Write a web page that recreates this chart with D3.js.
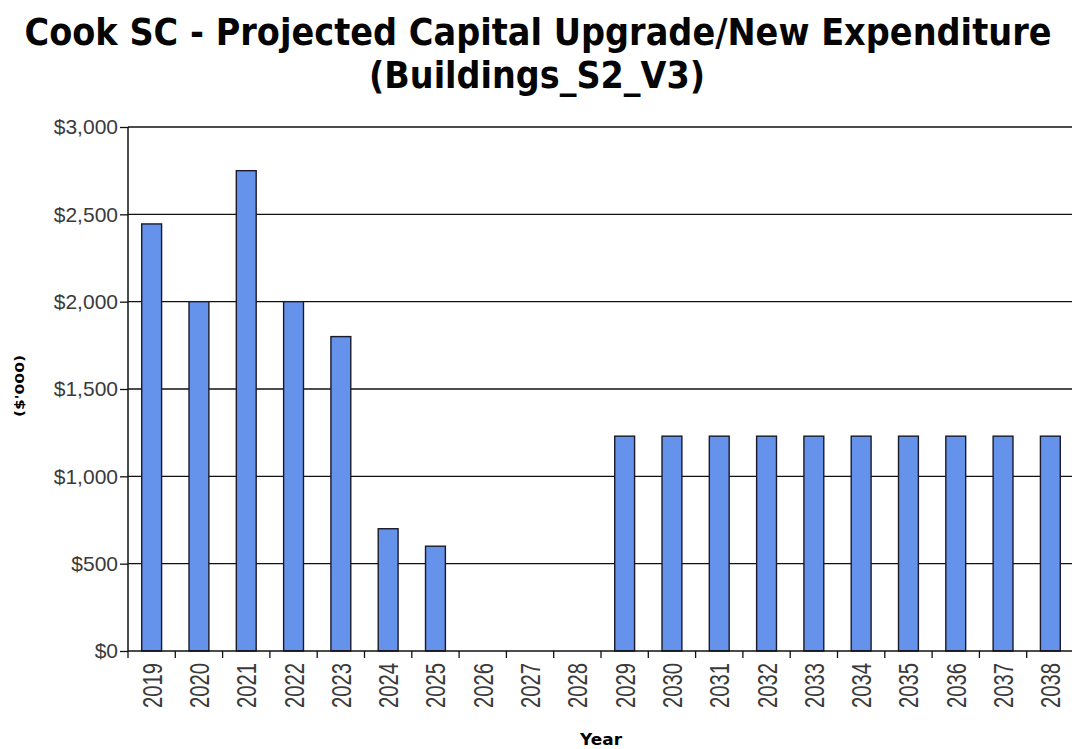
<!DOCTYPE html>
<html><head><meta charset="utf-8">
<script src="https://cdn.jsdelivr.net/npm/d3@7"></script>
<style>body{margin:0;background:#fff}svg{display:block}</style>
</head><body><svg id="c" width="1072" height="749"></svg>
<script>
const years = ["2019","2020","2021","2022","2023","2024","2025","2026","2027","2028","2029","2030","2031","2032","2033","2034","2035","2036","2037","2038"];
const values = [2445,2000,2750,2000,1800,700,600,0,0,0,1230,1230,1230,1230,1230,1230,1230,1230,1230,1230];
const yTicks = [0,500,1000,1500,2000,2500,3000];
const titleLines = ["Cook SC - Projected Capital Upgrade/New Expenditure","(Buildings_S2_V3)"];
const yTitle = "($'000)";
const xTitle = "Year";

const svg = d3.select("#c");
const m = {l:128, t:127, r:1074, b:651};
const x = d3.scaleBand().domain(years).range([m.l, m.r]).paddingInner(0.58).paddingOuter(0.29);
const y = d3.scaleLinear().domain([0,3000]).range([m.b, m.t]);

// title (drawn at a smaller size and stretched vertically to mimic a condensed bold face)
const tf = "'DejaVu Sans',Verdana,sans-serif";
const sy = 1.3;
svg.append("text").attr("transform",`translate(538,45) scale(1,${sy})`).attr("text-anchor","middle")
  .attr("font-family",tf).attr("font-weight","bold").attr("fill","#050505")
  .attr("font-size",28.5).attr("textLength",1027).attr("lengthAdjust","spacingAndGlyphs").text(titleLines[0]);
svg.append("text").attr("transform",`translate(537,88) scale(1,${sy})`).attr("text-anchor","middle")
  .attr("font-family",tf).attr("font-weight","bold").attr("fill","#050505")
  .attr("font-size",28.5).attr("textLength",336).attr("lengthAdjust","spacingAndGlyphs").text(titleLines[1]);

// grid lines
svg.append("g").selectAll("line").data(yTicks.filter(d=>d>0)).join("line")
  .attr("x1",m.l).attr("x2",1072).attr("y1",d=>y(d)).attr("y2",d=>y(d))
  .attr("stroke","#111").attr("stroke-width",1.3);

// bars
svg.append("g").selectAll("rect").data(years.map((yr,i)=>({yr,v:values[i]})).filter(d=>d.v>0)).join("rect")
  .attr("x",d=>x(d.yr)).attr("width",x.bandwidth())
  .attr("y",d=>y(d.v)).attr("height",d=>y(0)-y(d.v))
  .attr("fill","#6592EA").attr("stroke","#1a1a2a").attr("stroke-width",1.4);

// y axis
const ya = d3.axisLeft(y).tickValues(yTicks).tickSize(8).tickPadding(2).tickFormat(d=>"$"+d3.format(",")(d));
const gy = svg.append("g").attr("transform",`translate(${m.l},0)`).call(ya);
gy.select(".domain").remove();
gy.selectAll(".tick line").attr("stroke","#111").attr("stroke-width",1.3);
gy.selectAll("text").attr("font-family","'Liberation Sans',Arial,sans-serif").attr("font-size",21).attr("fill","#3a3a3a");
svg.append("line").attr("x1",m.l).attr("x2",m.l).attr("y1",m.t).attr("y2",m.b).attr("stroke","#111").attr("stroke-width",1.5);

// x axis
svg.append("line").attr("x1",m.l).attr("x2",1072).attr("y1",m.b).attr("y2",m.b).attr("stroke","#111").attr("stroke-width",1.5);
const step = x.step();
const bounds = years.map((d,i)=>m.l + i*step);
svg.append("g").selectAll("line").data(bounds).join("line")
  .attr("x1",d=>d).attr("x2",d=>d).attr("y1",m.b).attr("y2",m.b+7).attr("stroke","#111").attr("stroke-width",1.3);
svg.append("g").selectAll("text").data(years).join("text")
  .attr("transform",d=>`translate(${x(d)+x.bandwidth()/2+10},${m.b+12}) rotate(-90)`)
  .attr("text-anchor","end")
  .attr("font-family","'Liberation Sans',Arial,sans-serif").attr("font-size",28).attr("fill","#3a3a3a")
  .attr("textLength",45).attr("lengthAdjust","spacingAndGlyphs")
  .text(d=>d);

// axis titles
svg.append("text").attr("transform","translate(24,386) rotate(-90)").attr("text-anchor","middle")
  .attr("font-family","'DejaVu Sans',sans-serif").attr("font-weight","bold").attr("font-size",13)
  .attr("textLength",62).attr("lengthAdjust","spacingAndGlyphs").text(yTitle);
svg.append("text").attr("x",601).attr("y",745).attr("text-anchor","middle")
  .attr("font-family","'DejaVu Sans',sans-serif").attr("font-weight","bold").attr("font-size",15)
  .attr("textLength",42).attr("lengthAdjust","spacingAndGlyphs").text(xTitle);
</script></body></html>
